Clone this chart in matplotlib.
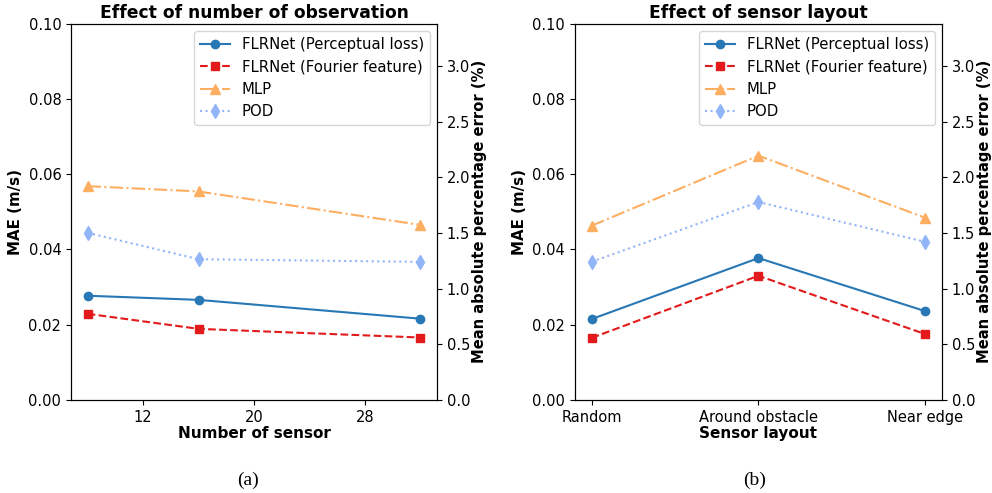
import matplotlib.pyplot as plt

# Datos
n_sensores = [8, 16, 32]
layouts = ['Random', 'Around obstacle', 'Near edge']

mae_num = {
    'FLRNet (Perceptual loss)': [0.0277, 0.0266, 0.0216],
    'FLRNet (Fourier feature)': [0.0229, 0.0189, 0.0166],
    'MLP': [0.0568, 0.0554, 0.0465],
    'POD': [0.0444, 0.0374, 0.0367],
}
mae_layout = {
    'FLRNet (Perceptual loss)': [0.0215, 0.0377, 0.0236],
    'FLRNet (Fourier feature)': [0.0165, 0.0330, 0.0175],
    'MLP': [0.0463, 0.0649, 0.0484],
    'POD': [0.0367, 0.0526, 0.0420],
}

estilos = {
    'FLRNet (Perceptual loss)': dict(color='#2878b5', ls='-', marker='o', ms=6),
    'FLRNet (Fourier feature)': dict(color='#e31a1c', ls='--', marker='s', ms=6),
    'MLP': dict(color='#fdae61', ls='-.', marker='^', ms=7),
    'POD': dict(color='#91b5f7', ls=':', marker='d', ms=7),
}

fs = 10.5
fig = plt.figure(figsize=(9.92, 4.93), dpi=100)
ax1 = fig.add_axes([0.0716, 0.1886, 0.369, 0.7637])
ax2 = fig.add_axes([0.5796, 0.1886, 0.370, 0.7637])

def dibujar(ax, x, datos, titulo, xlabel):
    for nombre, vals in datos.items():
        ax.plot(x, vals, label=nombre, lw=1.5, **estilos[nombre])
    ax.set_ylim(0, 0.1)
    ax.set_yticks([0, 0.02, 0.04, 0.06, 0.08, 0.10])
    ax.set_yticklabels(['0.00', '0.02', '0.04', '0.06', '0.08', '0.10'])
    ax.set_title(titulo, fontweight='bold', fontsize=12.3, pad=4)
    ax.set_xlabel(xlabel, fontweight='bold', fontsize=fs + 0.5, labelpad=1)
    ax.set_ylabel('MAE (m/s)', fontweight='bold', fontsize=fs + 0.3)
    ax.tick_params(labelsize=fs)
    ax.legend(loc='upper right', fontsize=fs + 0.2)
    axd = ax.twinx()
    axd.set_ylim(0, 3.38)
    axd.set_yticks([0, 0.5, 1.0, 1.5, 2.0, 2.5, 3.0])
    axd.set_ylabel('Mean absolute percentage error (%)', fontweight='bold',
                   fontsize=fs + 0.1, labelpad=1)
    axd.tick_params(labelsize=fs)

dibujar(ax1, n_sensores, mae_num, 'Effect of number of observation', 'Number of sensor')
ax1.set_xticks([12, 20, 28])

dibujar(ax2, range(len(layouts)), mae_layout, 'Effect of sensor layout', 'Sensor layout')
ax2.set_xticks(range(len(layouts)))
ax2.set_xticklabels(layouts)

fig.text(0.25, 0.026, '(a)', family='Liberation Serif', fontsize=14, ha='center', va='center')
fig.text(0.761, 0.026, '(b)', family='Liberation Serif', fontsize=14, ha='center', va='center')

fig.savefig('out.png', dpi=100)
